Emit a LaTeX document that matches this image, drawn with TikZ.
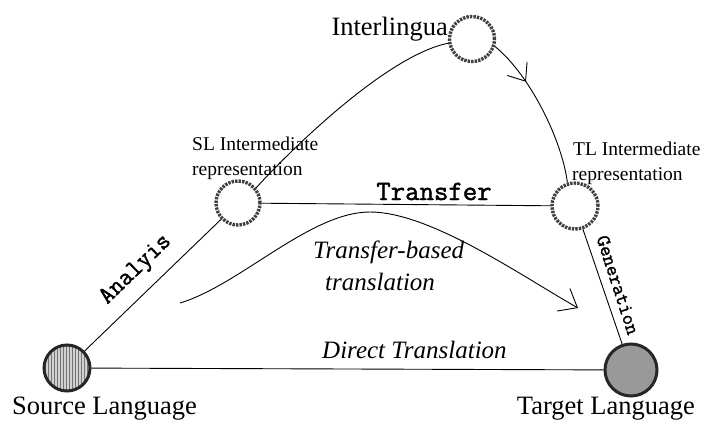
\documentclass[tikz,border=0pt]{standalone}
\usepackage{fontspec}
\setmainfont{Liberation Serif}
\newfontfamily\courb[FakeBold=1.6]{Latin Modern Mono}
\usetikzlibrary{arrows.meta,decorations.markings,patterns}
\tikzset{
  ring/.style={circle, draw=black!75, fill=white, line width=3.4pt, dash pattern=on 2.4pt off 1.1pt, inner sep=0pt},
  srcdot/.style={circle, draw=black!85, line width=3pt, inner sep=0pt, preaction={fill=black!18}, pattern=vertical lines, pattern color=black!55},
  tgtdot/.style={circle, draw=black!85, line width=3pt, inner sep=0pt, fill=black!40},
  conn/.style={line width=0.9pt, black},
  bigtxt/.style={font=\fontsize{26.5}{30}\selectfont, inner sep=0pt},
  smalltxt/.style={font=\fontsize{19.5}{23}\selectfont, inner sep=0pt},
  itxt/.style={font=\fontsize{25}{30}\selectfont\itshape, inner sep=0pt},
  ttxt/.style={inner sep=0pt},
  barb/.style={-{Straight Barb[length=16pt,width=26pt,line width=0.9pt]}},
  midbarb/.style={decoration={markings, mark=at position #1 with {\arrow{Straight Barb[length=15pt,width=24pt,line width=0.9pt]}}}, postaction={decorate}}
}
\begin{document}
\begin{tikzpicture}[x=1pt,y=-1pt]
\useasboundingbox (0,0) rectangle (702,421);
% nodes
\node[srcdot, minimum size=46pt] (src) at (67,368) {};
\node[tgtdot, minimum size=52pt] (tgt) at (631,370) {};
\node[ring, minimum size=44pt] (sl) at (238,203) {};
\node[ring, minimum size=46pt] (tl) at (575,206) {};
\node[ring, minimum size=45pt] (inter) at (472,39) {};
% texts
\node[bigtxt, anchor=base east] (tInter) at (448,35) {Interlingua};
\node[bigtxt, anchor=base west] (tSrc) at (12,414) {Source Language};
\node[bigtxt, anchor=base east] (tTgt) at (695,414) {Target Language};
\node[smalltxt, anchor=base west] (tSL1) at (192,150) {SL Intermediate};
\node[smalltxt, anchor=base west] (tSL2) at (192,175) {representation};
\node[smalltxt, anchor=base west] (tTL1) at (573,155) {TL Intermediate};
\node[smalltxt, anchor=base west] (tTL2) at (572,180) {representation};
% connectors
\draw[conn] (src) -- (sl);
\draw[conn] (sl) -- (tl);
\draw[conn] (tl) -- (tgt);
\draw[conn] (src) -- (tgt);
\draw[conn] (sl.40) .. controls (300,140) and (390,55) .. (inter.190);
\draw[conn, midbarb=0.3] (inter.-18) .. controls (530,75) and (562,140) .. (tl.108);
\coordinate (tbS) at (180,303);
\coordinate (tbM) at (370,212);
\coordinate (tbE) at (578,308);
\draw[conn, barb] (tbS) .. controls (240,285) and (310,212) .. (tbM) .. controls (430,212) and (520,275) .. (tbE);
% labels
\node[ttxt, font=\courb\fontsize{28}{30}\selectfont, anchor=base] (lTransfer) at (434,200) {Transfer};
\node[ttxt, font=\courb\fontsize{25}{28}\selectfont, rotate=44] (lAnal) at (136,270) {Analyis};
\node[ttxt, font=\courb\fontsize{20}{22}\selectfont, rotate=-72] (lGen) at (618,285) {Generation};
\node[itxt, anchor=base west] (lDirect) at (322,358) {Direct Translation};
\node[itxt, anchor=base west] (lTB1) at (313,258) {Transfer-based};
\node[itxt, anchor=base west] (lTB2) at (325,290) {translation};
\end{tikzpicture}
\end{document}
